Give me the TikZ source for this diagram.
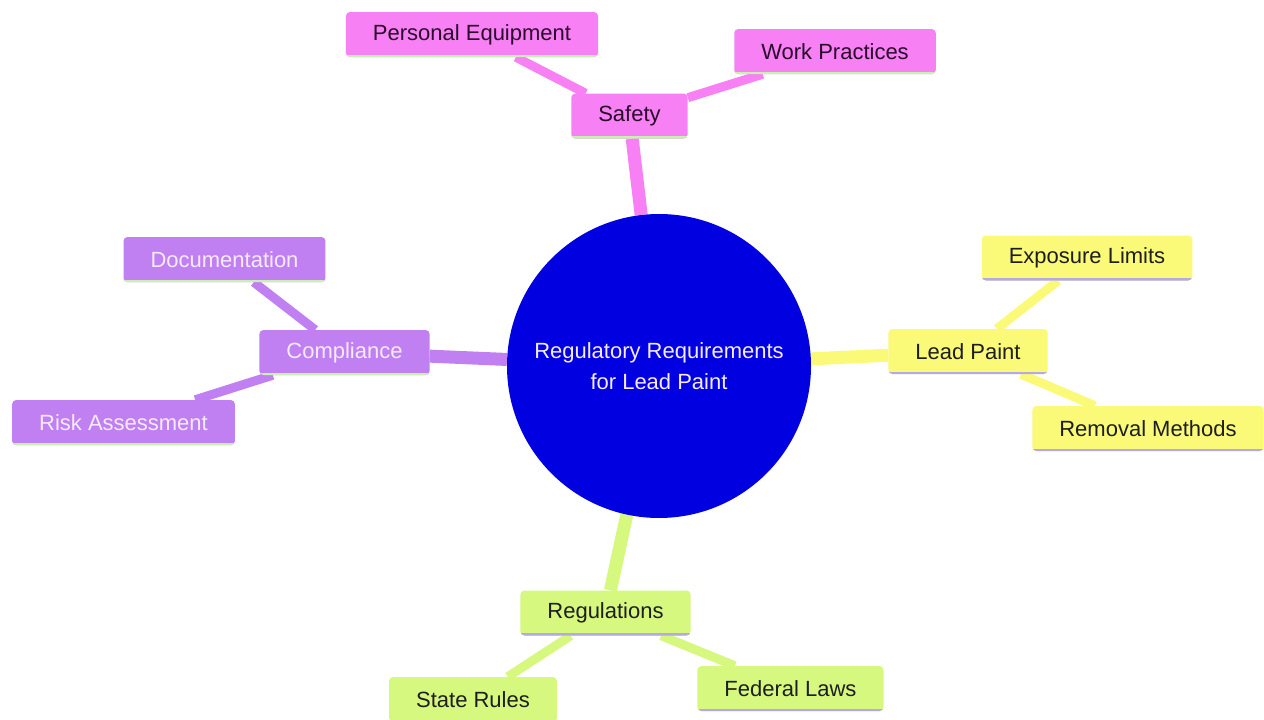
\documentclass[tikz,border=0pt]{standalone}
\usepackage{fontspec}
\setmainfont{Liberation Sans}
\usetikzlibrary{backgrounds}
\definecolor{pinkf}{HTML}{F780F4}
\definecolor{purpf}{HTML}{C080F2}
\definecolor{yellf}{HTML}{FAFA78}
\definecolor{greenf}{HTML}{D6F87E}
\definecolor{centerf}{HTML}{0000E0}
\definecolor{pinktext}{HTML}{2A0A2A}
\definecolor{purptext}{HTML}{F6EAFF}
\definecolor{darktext}{HTML}{1E1E1E}
\definecolor{greenline}{HTML}{C8F0B0}
\definecolor{lavline}{HTML}{B4A8E6}
\begin{document}
\begin{tikzpicture}[x=1pt,y=-1pt,
  box/.style={rounded corners=4pt, minimum height=45pt, inner xsep=27pt,
    font=\fontsize{22}{26}\selectfont},
  pinknode/.style={box, fill=pinkf, text=pinktext,
    path picture={\draw[line width=5pt,greenline] (path picture bounding box.south west) -- (path picture bounding box.south east);}},
  purpnode/.style={box, fill=purpf, text=purptext,
    path picture={\draw[line width=5pt,greenline] (path picture bounding box.south west) -- (path picture bounding box.south east);}},
  yellnode/.style={box, fill=yellf, text=darktext,
    path picture={\draw[line width=5pt,lavline] (path picture bounding box.south west) -- (path picture bounding box.south east);}},
  greennode/.style={box, fill=greenf, text=darktext,
    path picture={\draw[line width=5pt,lavline] (path picture bounding box.south west) -- (path picture bounding box.south east);}},
  main/.style={line width=13pt},
  sub/.style={line width=9pt}
]
\useasboundingbox (0,0) rectangle (1264,720);

\node[circle, fill=centerf, minimum size=304pt, text=purptext, align=center,
  font=\fontsize{22}{31}\selectfont] (center) at (659,366)
  {Regulatory Requirements\\for Lead Paint};

\node[pinknode] (safety) at (629.5,116) {Safety};
\node[pinknode] (pe) at (472,34.5) {Personal Equipment};
\node[pinknode] (wp) at (835,51.5) {Work Practices};

\node[yellnode] (lead) at (968,351.5) {Lead Paint};
\node[yellnode] (exp) at (1087,258) {Exposure Limits};
\node[yellnode] (rem) at (1148,428.5) {Removal Methods};

\node[purpnode] (comp) at (344.5,352.5) {Compliance};
\node[purpnode] (doc) at (224.5,259.5) {Documentation};
\node[purpnode] (risk) at (123.5,422.5) {Risk Assessment};

\node[greennode] (reg) at (605.5,613) {Regulations};
\node[greennode] (state) at (473,699.5) {State Rules};
\node[greennode] (fed) at (790.5,688.5) {Federal Laws};

\begin{scope}[on background layer]
\fill[white] (0,0) rectangle (1264,720);
\draw[main, pinkf] (center) -- (safety);
\draw[sub, pinkf] (safety) -- (pe);
\draw[sub, pinkf] (safety) -- (wp);
\draw[main, yellf] (center) -- (lead);
\draw[sub, yellf] (lead) -- (exp);
\draw[sub, yellf] (lead) -- (rem);
\draw[main, purpf] (center) -- (comp);
\draw[sub, purpf] (comp) -- (doc);
\draw[sub, purpf] (comp) -- (risk);
\draw[main, greenf] (center) -- (reg);
\draw[sub, greenf] (reg) -- (state);
\draw[sub, greenf] (reg) -- (fed);
\end{scope}
\end{tikzpicture}
\end{document}
